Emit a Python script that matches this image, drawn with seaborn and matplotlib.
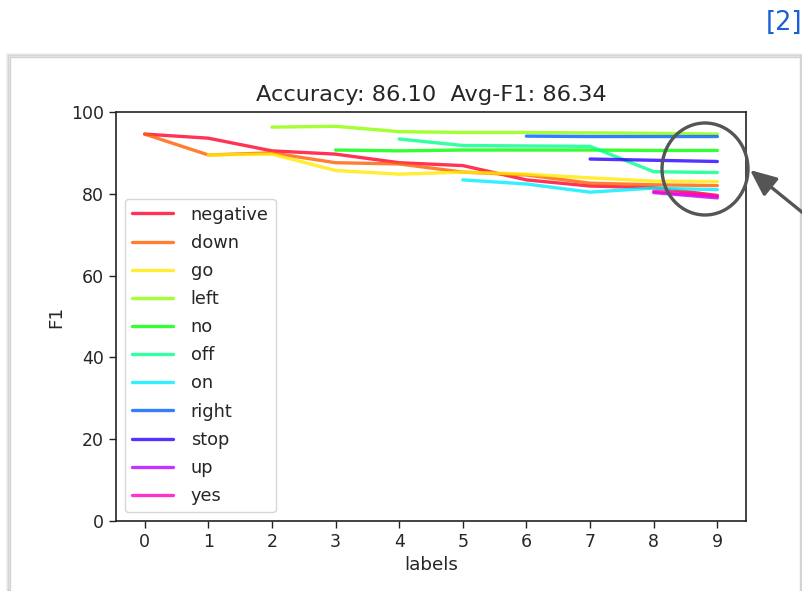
import numpy as np
import pandas as pd
import matplotlib
matplotlib.use("Agg")
import matplotlib.pyplot as plt
import seaborn as sns
from matplotlib.patches import Rectangle, Ellipse, FancyArrowPatch

# ---- data ----
labels_order = ["negative", "down", "go", "left", "no", "off", "on", "right", "stop", "up", "yes"]
x_negative = [0, 1, 2, 3, 4, 5, 6, 7, 8, 9]
y_negative = [94.6, 93.6, 90.5, 89.7, 87.6, 86.9, 83.4, 81.9, 81.5, 79.6]
x_down = [0, 1, 2, 3, 4, 5, 6, 7, 8, 9]
y_down = [94.6, 89.5, 90.0, 87.6, 87.3, 85.3, 84.6, 82.6, 82.2, 82.0]
x_go = [1, 2, 3, 4, 5, 6, 7, 8, 9]
y_go = [89.5, 89.7, 85.7, 84.8, 85.3, 84.8, 83.9, 83.1, 83.0]
x_left = [2, 3, 4, 5, 6, 7, 8, 9]
y_left = [96.3, 96.5, 95.2, 95.0, 95.0, 94.9, 94.8, 94.6]
x_no = [3, 4, 5, 6, 7, 8, 9]
y_no = [90.7, 90.5, 90.7, 90.7, 90.7, 90.6, 90.6]
x_off = [4, 5, 6, 7, 8, 9]
y_off = [93.4, 91.8, 91.7, 91.6, 85.4, 85.2]
x_on = [5, 6, 7, 8, 9]
y_on = [83.4, 82.4, 80.4, 81.4, 81.0]
x_right = [6, 7, 8, 9]
y_right = [94.1, 94.0, 94.0, 94.0]
x_stop = [7, 8, 9]
y_stop = [88.5, 88.2, 87.9]
x_up = [8, 9]
y_up = [80.3, 79.0]
x_yes = [8, 9]
y_yes = [80.6, 79.4]
xticks = list(range(10))
yticks = [0, 20, 40, 60, 80, 100]
title = "Accuracy: 86.10  Avg-F1: 86.34"

series = {
    "negative": (x_negative, y_negative), "down": (x_down, y_down), "go": (x_go, y_go),
    "left": (x_left, y_left), "no": (x_no, y_no), "off": (x_off, y_off), "on": (x_on, y_on),
    "right": (x_right, y_right), "stop": (x_stop, y_stop), "up": (x_up, y_up), "yes": (x_yes, y_yes),
}
rows = []
for name in labels_order:
    xs, ys = series[name]
    for xv, yv in zip(xs, ys):
        rows.append({"label": name, "x": xv, "F1": yv})
df = pd.DataFrame(rows)

sns.set_style("ticks")
plt.rcParams["font.family"] = ["DejaVu Sans"]

fig = plt.figure(figsize=(8.02, 5.91), dpi=100)
W, H = 802, 591

# card background with shadow
for i, a in enumerate([0.05, 0.08, 0.12]):
    fig.patches.append(Rectangle(((10 - 3 + i) / W, 0), (790 + 6 - 2 * i) / W, (591 - 57 + 3 - i) / H,
                                 transform=fig.transFigure, facecolor="none",
                                 edgecolor=(0, 0, 0, a), lw=1.2, zorder=-10))
fig.patches.append(Rectangle((10 / W, -0.01), 790 / W, (591 - 57) / H + 0.01,
                             transform=fig.transFigure, facecolor="white",
                             edgecolor="#d4d4d4", lw=1.0, zorder=-9))

ax = fig.add_axes([116 / W, 1 - 521 / H, (746 - 116) / W, (521 - 112) / H])
palette = [plt.cm.gist_rainbow(v) for v in np.linspace(0, 1, len(labels_order))]
sns.lineplot(data=df, x="x", y="F1", hue="label", hue_order=labels_order,
             palette=palette, estimator=None, sort=False, lw=2.4, alpha=0.8, ax=ax)

ax.set_xlim(-0.45, 9.45)
ax.set_ylim(0, 100)
ax.set_xticks(xticks)
ax.set_yticks(yticks)
ax.tick_params(labelsize=12.5, length=5, width=1, color="#222222")
ax.set_xlabel("labels", fontsize=13.2)
ax.set_ylabel("F1", fontsize=13.2)
ax.set_title(title, fontsize=16.2, pad=8)
for s in ax.spines.values():
    s.set_visible(True)
    s.set_color("#222222")
    s.set_linewidth(1.2)

leg = ax.legend(loc="lower left", fontsize=12.8, frameon=True, handlelength=2.3,
                handletextpad=1.0, labelspacing=0.57, borderaxespad=0.5)
leg.set_title(None)
for h in leg.get_lines():
    h.set_linewidth(2.4)

# annotation ellipse and arrow
fig.patches.append(Ellipse((705 / W, 1 - 169 / H), 86 / W, 92 / H, transform=fig.transFigure,
                           facecolor="none", edgecolor="#555555", lw=2.4, zorder=10))
arr = FancyArrowPatch((808 / W, 1 - 217 / H), (750 / W, 1 - 170 / H), transform=fig.transFigure,
                      arrowstyle="-|>,head_length=16,head_width=7", color="#555555", lw=2.4,
                      mutation_scale=1, shrinkA=0, shrinkB=0, zorder=10)
fig.patches.append(arr)

fig.text(1.0, 1 - 23 / H, "[2]", ha="right", va="center", color="#1a5fd8", fontsize=18.5)

fig.savefig("out.png", dpi=100)
